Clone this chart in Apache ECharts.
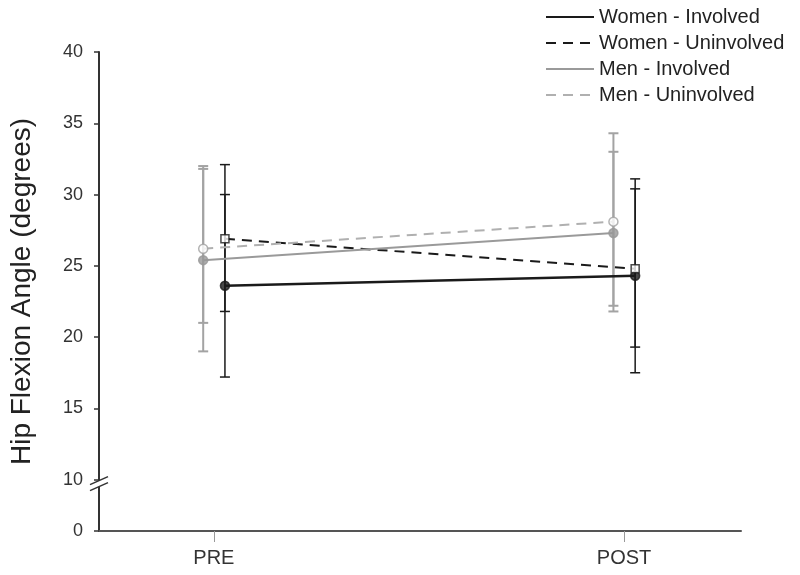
<!DOCTYPE html>
<html>
<head>
<meta charset="utf-8">
<script src="https://cdn.jsdelivr.net/npm/echarts@6/dist/echarts.min.js"></script>
<style>
  html, body { margin: 0; padding: 0; background: #fff; }
  #chart { width: 800px; height: 575px; }
</style>
</head>
<body>
<div id="chart"></div>
<script>
let categories = ['PRE', 'POST']; // 测量时间点
let yTicks = [10, 15, 20, 25, 30, 35, 40];

// 均值与误差线上下端
let womenInvolved = [23.6, 24.3];
let womenInvolvedLow = [17.2, 17.5];
let womenInvolvedHigh = [30.0, 31.1];

let womenUninvolved = [26.9, 24.8];
let womenUninvolvedLow = [21.8, 19.3];
let womenUninvolvedHigh = [32.1, 30.4];

let menInvolved = [25.4, 27.3];
let menInvolvedLow = [19.0, 21.8];
let menInvolvedHigh = [31.8, 33.0];

let menUninvolved = [26.2, 28.1];
let menUninvolvedLow = [21.0, 22.2];
let menUninvolvedHigh = [32.0, 34.3];

const Y_ZERO = 6.4; // 断轴：0 画在这个位置
const BLACK = '#1a1a1a';
const GRAY = '#a3a3a3';
const FONT = 'Liberation Sans, Arial, sans-serif';

function xOf(i, dodge) {
    return i + 1 + dodge;
}

function linePoints(means, dodge) {
    return means.map(function(v, i) { return [xOf(i, dodge), v]; });
}

function barPoints(low, high, dodge) {
    return low.map(function(v, i) { return [xOf(i, dodge), v, high[i]]; });
}

function lineSeries(name, means, dodge, color, width, dashed) {
    return {
        name: name,
        type: 'line',
        data: linePoints(means, dodge),
        symbol: 'none',
        z: 3,
        lineStyle: { color: color, width: width, type: dashed ? [10, 7] : 'solid' },
        itemStyle: { color: color }
    };
}

function errorSeries(low, high, dodge, color, width) {
    return {
        type: 'custom',
        data: barPoints(low, high, dodge),
        z: 2,
        renderItem: function(params, api) {
            const top = api.coord([api.value(0), api.value(2)]);
            const bot = api.coord([api.value(0), api.value(1)]);
            const hw = 5;
            const style = { stroke: color, lineWidth: width };
            return {
                type: 'group',
                children: [
                    { type: 'line', shape: { x1: top[0], y1: top[1], x2: bot[0], y2: bot[1] }, style: style },
                    { type: 'line', shape: { x1: top[0] - hw, y1: top[1], x2: top[0] + hw, y2: top[1] }, style: style },
                    { type: 'line', shape: { x1: bot[0] - hw, y1: bot[1], x2: bot[0] + hw, y2: bot[1] }, style: style }
                ]
            };
        }
    };
}

function markerSeries(means, dodge, symbol, fill, stroke) {
    return {
        type: 'scatter',
        data: linePoints(means, dodge),
        symbol: symbol,
        symbolSize: symbol === 'rect' ? 8 : 9,
        z: 5,
        itemStyle: { color: fill, borderColor: stroke, borderWidth: 1.5 }
    };
}

const chart = echarts.init(document.getElementById('chart'), null, { renderer: 'canvas' });

const W = 0.027, M = -0.026;

const option = {
    backgroundColor: '#fff',
    animation: false,
    textStyle: { fontFamily: FONT },
    grid: { left: 98, right: 59, top: 52, bottom: 44 },
    legend: {
        data: ['Women - Involved', 'Women - Uninvolved', 'Men - Involved', 'Men - Uninvolved'],
        orient: 'vertical',
        left: 545,
        top: 7,
        padding: 0,
        itemWidth: 48,
        itemHeight: 14,
        itemGap: 6,
        itemStyle: { opacity: 0 },
        textStyle: { fontSize: 20, lineHeight: 20, color: '#222', fontFamily: FONT }
    },
    xAxis: {
        type: 'value',
        min: 0.72,
        max: 2.285,
        splitLine: { show: false },
        axisLine: { lineStyle: { color: '#555', width: 2 } },
        axisTick: {
            show: true,
            length: 11,
            customValues: [1, 2],
            lineStyle: { color: '#999', width: 1 }
        },
        axisLabel: {
            customValues: [1, 2],
            margin: 17,
            fontSize: 20,
            color: '#333',
            fontFamily: FONT,
            formatter: function(v) { return categories[Math.round(v) - 1]; }
        }
    },
    yAxis: {
        type: 'value',
        min: Y_ZERO,
        max: 40,
        name: 'Hip Flexion Angle (degrees)',
        nameLocation: 'middle',
        nameGap: 63,
        nameTextStyle: { fontSize: 28, color: '#222', fontFamily: FONT },
        splitLine: { show: false },
        axisLine: { show: true, lineStyle: { color: '#333', width: 2 } },
        axisTick: {
            show: true,
            length: 5,
            customValues: [Y_ZERO].concat(yTicks),
            lineStyle: { color: '#333', width: 1.5 }
        },
        axisLabel: {
            customValues: [Y_ZERO].concat(yTicks),
            margin: 16,
            fontSize: 18,
            color: '#333',
            fontFamily: FONT,
            formatter: function(v) { return v < 10 ? '0' : String(v); }
        }
    },
    series: [
        errorSeries(menInvolvedLow, menInvolvedHigh, M, GRAY, 2),
        errorSeries(menUninvolvedLow, menUninvolvedHigh, M, GRAY, 2),
        errorSeries(womenInvolvedLow, womenInvolvedHigh, W, BLACK, 1.5),
        errorSeries(womenUninvolvedLow, womenUninvolvedHigh, W, BLACK, 1.5),
        lineSeries('Women - Involved', womenInvolved, W, BLACK, 2.5, false),
        lineSeries('Women - Uninvolved', womenUninvolved, W, BLACK, 2, true),
        lineSeries('Men - Involved', menInvolved, M, '#9a9a9a', 2, false),
        lineSeries('Men - Uninvolved', menUninvolved, M, '#b0b0b0', 2, true),
        markerSeries(menInvolved, M, 'circle', '#999', '#999'),
        markerSeries(menUninvolved, M, 'circle', '#fff', '#a0a0a0'),
        markerSeries(womenInvolved, W, 'circle', BLACK, BLACK),
        markerSeries(womenUninvolved, W, 'rect', '#fff', BLACK)
    ]
};

chart.setOption(option);

// 断轴标记 //
const p = chart.convertToPixel({ gridIndex: 0 }, [0.72, 10]);
chart.setOption({
    graphic: [
        {
            type: 'polygon',
            shape: { points: [[p[0] - 9, p[1] + 5], [p[0] + 9, p[1] - 3], [p[0] + 9, p[1] + 3], [p[0] - 9, p[1] + 11]] },
            style: { fill: '#fff' },
            z: 10
        },
        {
            type: 'line',
            shape: { x1: p[0] - 9, y1: p[1] + 5, x2: p[0] + 9, y2: p[1] - 3 },
            style: { stroke: '#333', lineWidth: 1.5 },
            z: 11
        },
        {
            type: 'line',
            shape: { x1: p[0] - 9, y1: p[1] + 11, x2: p[0] + 9, y2: p[1] + 3 },
            style: { stroke: '#333', lineWidth: 1.5 },
            z: 11
        }
    ]
});
</script>
</body>
</html>
